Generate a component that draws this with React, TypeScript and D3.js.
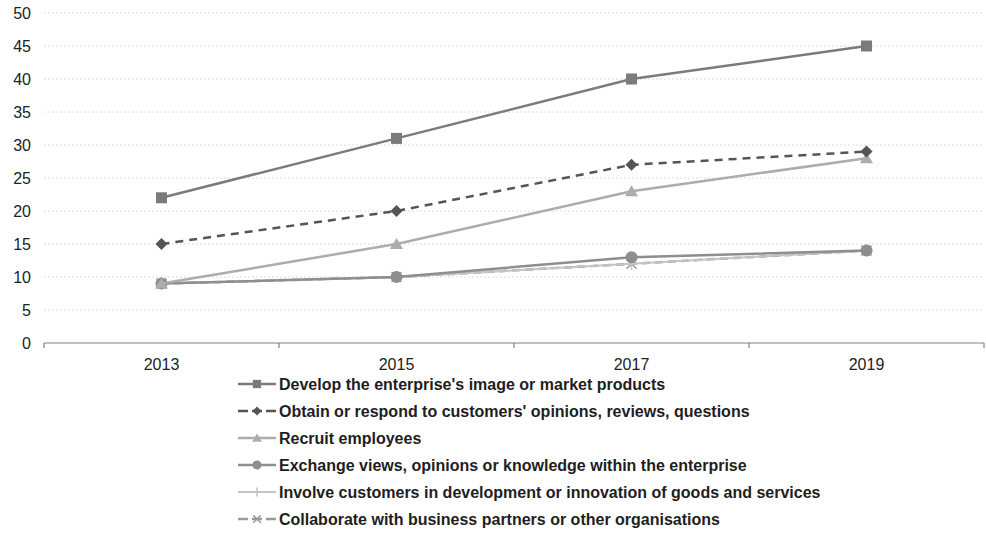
import React from "react";
import * as d3 from "d3";

const years = ["2013", "2015", "2017", "2019"];
const yTicks = [0, 5, 10, 15, 20, 25, 30, 35, 40, 45, 50];

const seriesNames = [
  "Develop the enterprise's image or market products",
  "Obtain or respond to customers' opinions, reviews, questions",
  "Recruit employees",
  "Exchange views, opinions or knowledge within the enterprise",
  "Involve customers in development or innovation of goods and services",
  "Collaborate with business partners or other organisations",
];
const imageValues = [22, 31, 40, 45];
const opinionValues = [15, 20, 27, 29];
const recruitValues = [9, 15, 23, 28];
const exchangeValues = [9, 10, 13, 14];
const involveValues = [9, 10, 12, 14];
const collaborateValues = [9, 10, 12, 14];

const styles = [
  { color: "#7b7b7b", dash: "", width: 2.5, marker: "square" },
  { color: "#555555", dash: "8,6", width: 2.5, marker: "diamond" },
  { color: "#acacac", dash: "", width: 2.5, marker: "triangle" },
  { color: "#8e8e8e", dash: "", width: 2.5, marker: "circle" },
  { color: "#c4c4c4", dash: "", width: 2, marker: "plus" },
  { color: "#9a9a9a", dash: "8,5", width: 2.5, marker: "cross" },
];

function Marker({ type, x, y, color, s = 1 }: { type: string; x: number; y: number; color: string; s?: number }) {
  if (type === "square") return <rect x={x - 5.5 * s} y={y - 5.5 * s} width={11 * s} height={11 * s} fill={color} />;
  if (type === "diamond")
    return <path d={`M${x},${y - 6 * s}L${x + 6 * s},${y}L${x},${y + 6 * s}L${x - 6 * s},${y}Z`} fill={color} />;
  if (type === "triangle")
    return <path d={`M${x},${y - 6 * s}L${x + 6.5 * s},${y + 5 * s}L${x - 6.5 * s},${y + 5 * s}Z`} fill={color} />;
  if (type === "circle") return <circle cx={x} cy={y} r={6 * s} fill={color} />;
  if (type === "plus")
    return <path d={`M${x - 6 * s},${y}H${x + 6 * s}M${x},${y - 6 * s}V${y + 6 * s}`} stroke={color} strokeWidth={1.5} />;
  return (
    <path
      d={`M${x - 5 * s},${y - 5 * s}L${x + 5 * s},${y + 5 * s}M${x + 5 * s},${y - 5 * s}L${x - 5 * s},${y + 5 * s}`}
      stroke={color}
      strokeWidth={1.5}
    />
  );
}

export default function App() {
  const allValues = [imageValues, opinionValues, recruitValues, exchangeValues, involveValues, collaborateValues];
  const left = 44, right = 984, top = 13, bottom = 343;
  const x = d3.scaleBand<string>().domain(years).range([left, right]);
  const y = d3.scaleLinear().domain([0, 50]).range([bottom, top]);
  const line = d3
    .line<number>()
    .x((_, i) => (x(years[i]) as number) + x.bandwidth() / 2)
    .y((d) => y(d));
  const font = "Arial, 'Liberation Sans', sans-serif";
  const boundaries = [...years.map((yr) => x(yr) as number), right];
  const drawOrder = [5, 4, 3, 2, 1, 0];
  return (
    <svg width={986} height={533} style={{ position: "absolute", left: 0, top: 0, background: "#fff" }} fontFamily={font}>
      {yTicks.map((t) => (
        <g key={t}>
          {t > 0 && (
            <line x1={left} x2={right} y1={y(t)} y2={y(t)} stroke="#dcdcdc" strokeWidth={1} strokeDasharray="2,2" />
          )}
          <text x={31} y={y(t)} dy="0.35em" textAnchor="end" fontSize={16} fill="#222">
            {t}
          </text>
        </g>
      ))}
      <line x1={left} x2={right} y1={bottom} y2={bottom} stroke="#808080" strokeWidth={1.2} />
      {boundaries.map((b, i) => (
        <line key={i} x1={b} x2={b} y1={bottom} y2={bottom + 5} stroke="#808080" strokeWidth={1.2} />
      ))}
      {years.map((yr) => (
        <text key={yr} x={(x(yr) as number) + x.bandwidth() / 2} y={364} dy="0.35em" textAnchor="middle" fontSize={16} fill="#222">
          {yr}
        </text>
      ))}
      {drawOrder.map((si) => {
        const s = styles[si];
        const vals = allValues[si];
        return (
          <g key={si}>
            <path d={line(vals) || ""} fill="none" stroke={s.color} strokeWidth={s.width} strokeDasharray={s.dash} />
            {vals.map((v, i) => (
              <Marker key={i} type={s.marker} x={(x(years[i]) as number) + x.bandwidth() / 2} y={y(v)} color={s.color} />
            ))}
          </g>
        );
      })}
      {seriesNames.map((name, i) => {
        const s = styles[i];
        const ly = 384 + i * 27;
        return (
          <g key={name}>
            <line x1={238} x2={276} y1={ly} y2={ly} stroke={s.color} strokeWidth={s.width} strokeDasharray={s.dash ? "10,4" : ""} />
            <Marker type={s.marker} x={257} y={ly} color={s.color} s={0.75} />
            <text x={279} y={ly} dy="0.35em" fontSize={16} fontWeight="bold" fill="#1e1e1e">
              {name}
            </text>
          </g>
        );
      })}
    </svg>
  );
}
